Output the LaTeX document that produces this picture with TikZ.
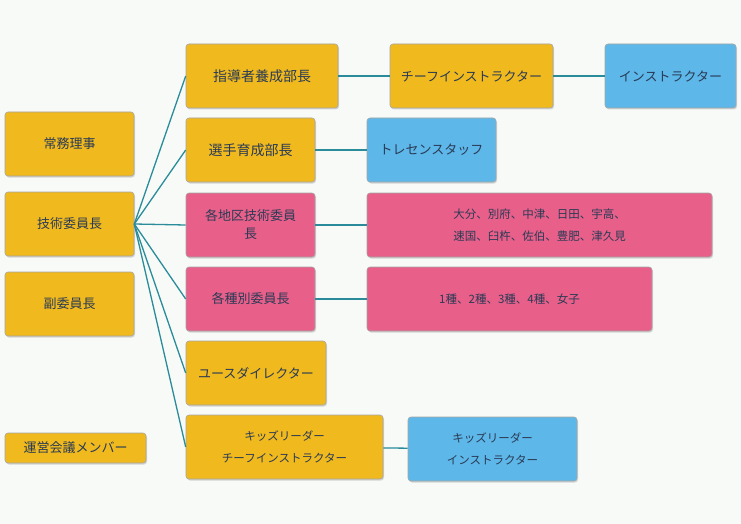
\documentclass[tikz,border=0pt]{standalone}
\usepackage{fontspec}
\setmainfont{Noto Sans CJK JP}
\usetikzlibrary{shadows}
\definecolor{bg}{HTML}{F7FAF7}
\definecolor{yel}{HTML}{F0BA1E}
\definecolor{blu}{HTML}{5DB7E8}
\definecolor{pnk}{HTML}{E8608A}
\definecolor{txt}{HTML}{2A3A55}
\definecolor{ln}{HTML}{2A8C9A}
\tikzset{
 bx/.style={rectangle, rounded corners=3pt, draw=black!35, line width=0.6pt, inner sep=0pt, text=txt, align=center, font=\fontsize{13}{18}\selectfont, drop shadow={shadow xshift=1pt,shadow yshift=-1.5pt,opacity=0.3}},
 sm/.style={font=\fontsize{11.5}{22}\selectfont},
 big/.style={font=\fontsize{14}{18}\selectfont},
 con/.style={ln, line width=1.3pt}
}
\begin{document}
\begin{tikzpicture}[x=1pt,y=-1pt]
\fill[bg] (0,0) rectangle (741,524);
\useasboundingbox (0,0) rectangle (741,524);
\node[bx,fill=yel,minimum width=129pt,minimum height=64pt] (a) at (69.5,144) {常務理事};
\node[bx,fill=yel,minimum width=129pt,minimum height=64pt] (b) at (69.5,224) {技術委員長};
\node[bx,fill=yel,minimum width=129pt,minimum height=64pt] (c) at (69.5,304) {副委員長};
\node[bx,fill=yel,minimum width=141pt,minimum height=30pt] (d) at (75.5,448) {運営会議メンバー};
\node[bx,big,fill=yel,minimum width=152pt,minimum height=64pt] (s1) at (262,76) {指導者養成部長};
\node[bx,fill=yel,minimum width=163pt,minimum height=64pt] (t1) at (471.5,76) {チーフインストラクター};
\node[bx,fill=blu,minimum width=131pt,minimum height=64pt] (u1) at (670.5,76) {インストラクター};
\node[bx,big,fill=yel,minimum width=129pt,minimum height=64pt] (s2) at (250.5,150) {選手育成部長};
\node[bx,fill=blu,minimum width=129pt,minimum height=64pt] (t2) at (431.5,150) {トレセンスタッフ};
\node[bx,fill=pnk,minimum width=129pt,minimum height=64pt] (s3) at (250.5,225) {各地区技術委員\\長};
\node[bx,sm,fill=pnk,minimum width=345pt,minimum height=64pt] (t3) at (539.5,225) {大分、別府、中津、日田、宇高、\\速国、臼杵、佐伯、豊肥、津久見};
\node[bx,fill=pnk,minimum width=129pt,minimum height=64pt] (s4) at (250.5,299) {各種別委員長};
\node[bx,sm,fill=pnk,minimum width=285pt,minimum height=64pt] (t4) at (509.5,299) {1種、2種、3種、4種、女子};
\node[bx,fill=yel,minimum width=140pt,minimum height=64pt] (s5) at (256,373) {ユースダイレクター};
\node[bx,sm,fill=yel,minimum width=197pt,minimum height=64pt] (s6) at (284.5,447) {キッズリーダー\\チーフインストラクター};
\node[bx,sm,fill=blu,minimum width=169pt,minimum height=64pt] (t6) at (492.5,449) {キッズリーダー\\インストラクター};
\foreach \s in {s1,s2,s3,s4,s5,s6} \draw[con] (b.east) -- (\s.west);
\draw[con] (s1) -- (t1);
\draw[con] (t1) -- (u1);
\draw[con] (s2) -- (t2);
\draw[con] (s3) -- (t3);
\draw[con] (s4) -- (t4);
\draw[con] (s6) -- (t6);
\end{tikzpicture}
\end{document}
